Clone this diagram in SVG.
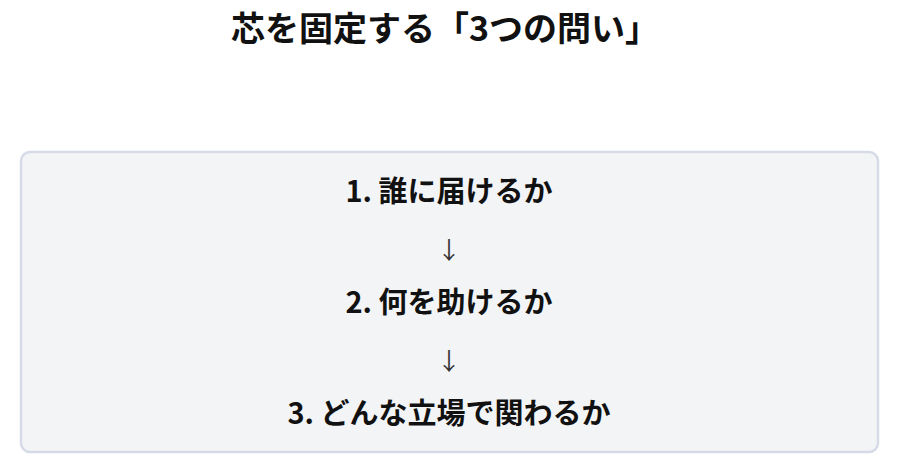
<svg xmlns="http://www.w3.org/2000/svg" width="900" height="463" viewBox="0 0 900 463">
<style>
.t{font-family:"Noto Sans CJK JP","Noto Sans",sans-serif;font-weight:bold;fill:#111;text-anchor:middle}
.a{font-family:"Noto Sans CJK JP","DejaVu Sans",sans-serif;fill:#333;text-anchor:middle;font-size:24px}
</style>
<rect width="900" height="463" fill="#fff"/>
<text class="t" x="445" y="41" font-size="34">芯を固定する「3つの問い」</text>
<g id="box"><rect x="21" y="152" width="857" height="300" rx="9" fill="#f3f4f6" stroke="#d6dbe7" stroke-width="2.5"/></g>
<g id="q1"><text class="t" x="449" y="202" font-size="29">1. 誰に届けるか</text></g>
<g id="q2"><text class="t" x="449" y="313" font-size="29">2. 何を助けるか</text></g>
<g id="q3"><text class="t" x="449" y="424" font-size="29">3. どんな立場で関わるか</text></g>
<g id="connectors">
<text class="a" x="449" y="259">↓</text>
<text class="a" x="449" y="370">↓</text>
</g>
</svg>
